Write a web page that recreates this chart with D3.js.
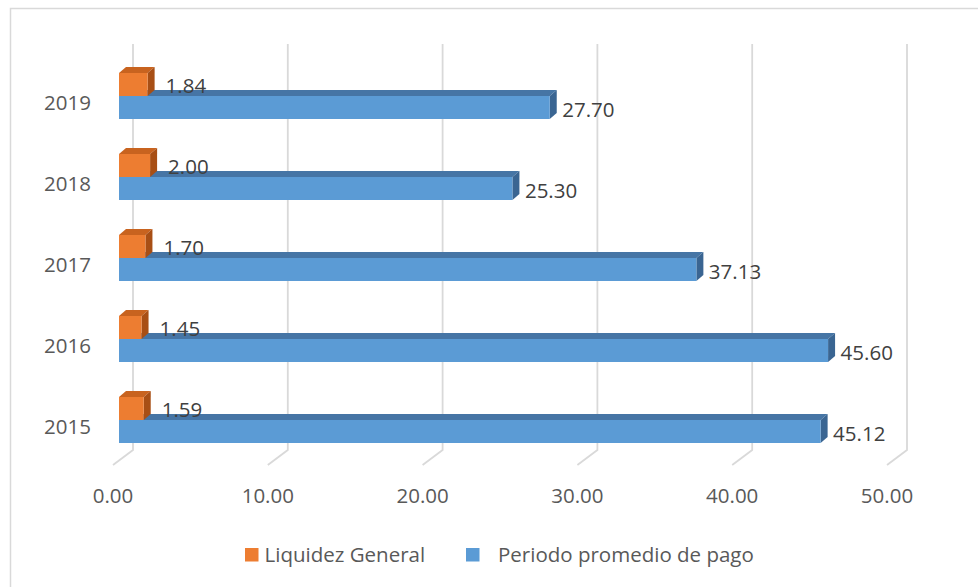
<!DOCTYPE html>
<html>
<head>
<meta charset="utf-8">
<script src="https://cdn.jsdelivr.net/npm/d3@7"></script>
<style>
  body { margin: 0; background: #fff; }
  svg text { font-family: "Open Sans", sans-serif; }
</style>
</head>
<body>
<svg id="chart" width="978" height="587"></svg>
<script>
// Categories and series values
const years = ["2015", "2016", "2017", "2018", "2019"];
const liquidez = [1.59, 1.45, 1.70, 2.00, 1.84];
const periodo = [45.12, 45.60, 37.13, 25.30, 27.70];
const tickValues = [0, 10, 20, 30, 40, 50];
const seriesNames = ["Liquidez General", "Periodo promedio de pago"];

const palette = {
  orange: { front: "#ED7D31", top: "#C8631F", side: "#A84F15" },
  blue:   { front: "#5B9BD5", top: "#4675A5", side: "#3A6592" }
};

const svg = d3.select("#chart");

// Outer chart frame
svg.append("rect")
  .attr("x", 10.5).attr("y", 8.5)
  .attr("width", 1000).attr("height", 600)
  .attr("fill", "none").attr("stroke", "#d9d9d9").attr("stroke-width", 1.5);

// 3D-style scales: back wall, floor front edge and the bar plane
const xBack  = d3.scaleLinear().domain([0, 50]).range([133, 907]);
const xFloor = d3.scaleLinear().domain([0, 50]).range([113, 887]);
const xBar   = d3.scaleLinear().domain([0, 50]).range([119, 896.5]);
const y = d3.scaleBand().domain(years.slice().reverse()).range([55.5, 460.5]);
const wallTop = 44, wallBottom = 450, floorFront = 465;
const depth = { dx: 7, dy: -6 };
const barH = 23;

// Back-wall gridlines and floor ticks
const grid = svg.append("g")
  .attr("fill", "none").attr("stroke", "#d9d9d9").attr("stroke-width", 1.8);
grid.selectAll("path").data(tickValues).join("path")
  .attr("d", t => d3.line()([
    [xBack(t), wallTop], [xBack(t), wallBottom], [xFloor(t), floorFront]
  ]));

// Horizontal axis labels
svg.append("g").selectAll("text").data(tickValues).join("text")
  .attr("x", t => xFloor(t)).attr("y", 503)
  .attr("text-anchor", "middle")
  .attr("font-size", 20.5).attr("fill", "#595959")
  .text(t => d3.format(".2f")(t));

// Category labels
svg.append("g").selectAll("text").data(years).join("text")
  .attr("x", 91).attr("y", d => y(d) + y.bandwidth() / 2 + 14)
  .attr("text-anchor", "end")
  .attr("font-size", 20.5).attr("fill", "#595959")
  .text(d => d);

// Draws a prism-like bar: front face, top face and right side face
function drawBar(g, v, top, colors) {
  const x0 = xBar(0), x1 = xBar(v), b = top + barH;
  g.append("polygon")
    .attr("points", [[x0, top], [x1, top], [x1 + depth.dx, top + depth.dy], [x0 + depth.dx, top + depth.dy]].join(" "))
    .attr("fill", colors.top);
  g.append("polygon")
    .attr("points", [[x1, top], [x1 + depth.dx, top + depth.dy], [x1 + depth.dx, b + depth.dy], [x1, b]].join(" "))
    .attr("fill", colors.side);
  g.append("rect")
    .attr("x", x0).attr("y", top)
    .attr("width", x1 - x0).attr("height", barH)
    .attr("fill", colors.front);
}

const bars = svg.append("g");
years.forEach((yr, i) => {
  const c = y(yr) + y.bandwidth() / 2;
  const g = bars.append("g");
  drawBar(g, periodo[i], c, palette.blue);
  drawBar(g, liquidez[i], c - barH, palette.orange);

  g.append("text")
    .attr("x", xBar(liquidez[i]) + 18).attr("y", c - 3)
    .attr("font-size", 20.5).attr("fill", "#404040")
    .text(d3.format(".2f")(liquidez[i]));
  g.append("text")
    .attr("x", xBar(periodo[i]) + 12.5).attr("y", c + 21)
    .attr("font-size", 20.5).attr("fill", "#404040")
    .text(d3.format(".2f")(periodo[i]));
});

// Legend
const legendItems = [
  { name: seriesNames[0], color: palette.orange.front, sx: 245, tx: 264.5 },
  { name: seriesNames[1], color: palette.blue.front, sx: 466, tx: 498 }
];
const legend = svg.append("g");
legend.selectAll("rect").data(legendItems).join("rect")
  .attr("x", d => d.sx).attr("y", 548)
  .attr("width", 13.5).attr("height", 13.5)
  .attr("fill", d => d.color);
legend.selectAll("text").data(legendItems).join("text")
  .attr("x", d => d.tx).attr("y", 562)
  .attr("font-size", 20.5).attr("fill", "#595959")
  .text(d => d.name);
</script>
</body>
</html>
